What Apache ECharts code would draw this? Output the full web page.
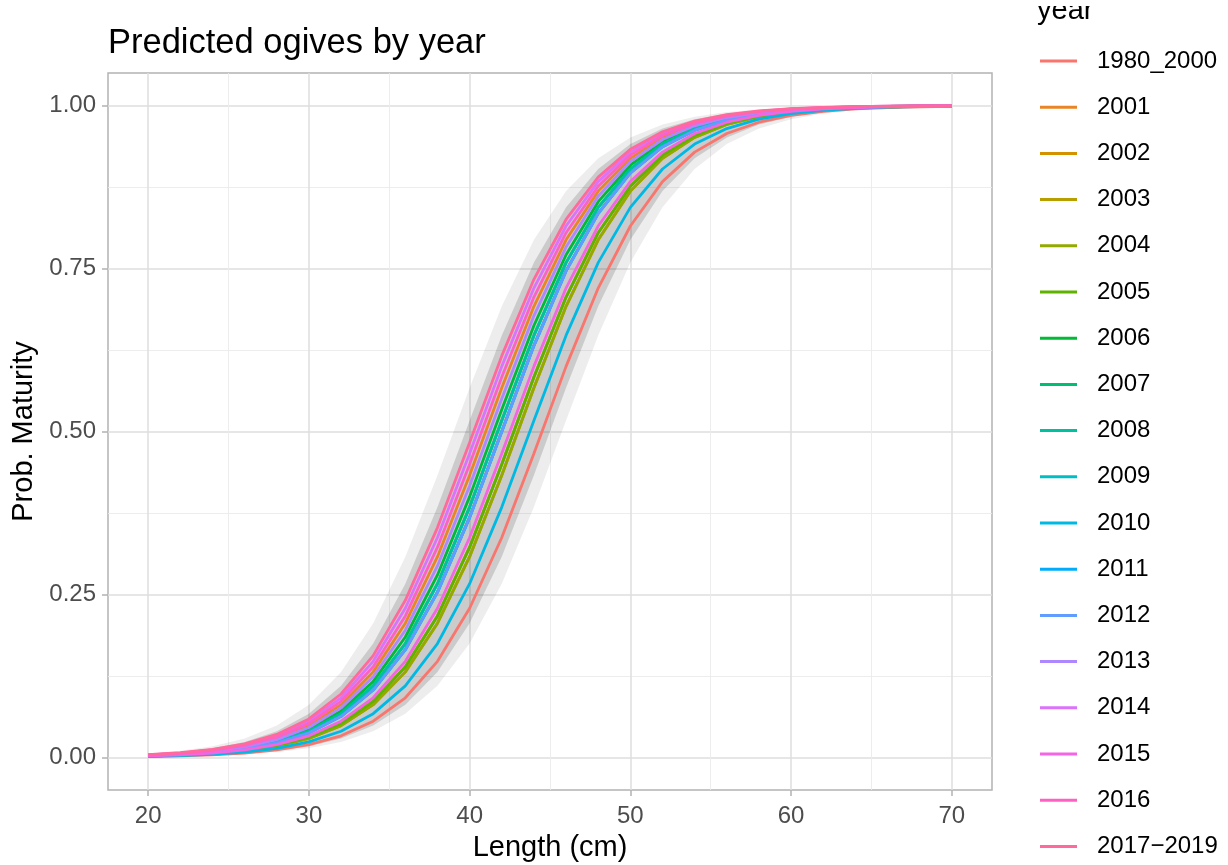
<!DOCTYPE html>
<html>
<head>
<meta charset="utf-8">
<script src="https://cdn.jsdelivr.net/npm/echarts@6/dist/echarts.min.js"></script>
<style>
html, body { margin: 0; padding: 0; background: #fff; }
#chart { width: 1228px; height: 865px; }
</style>
</head>
<body>
<div id="chart"></div>
<script>
// length classes (cm)
var lengths = [20,22,24,26,28,30,32,34,36,38,40,42,44,46,48,50,52,54,56,58,60,62,64,66,68,70];

var years = ['1980_2000','2001','2002','2003','2004','2005','2006','2007','2008','2009',
             '2010','2011','2012','2013','2014','2015','2016','2017\u22122019'];

var colors = ['#F8766D','#E88526','#D39200','#B79F00','#93AA00','#5EB300','#00BA38','#00BF74','#00C19F',
              '#00BFC4','#00B9E3','#00ADFA','#619CFF','#AE87FF','#DB72FB','#F564E3','#FF61C3','#FF699C'];

// predicted maturity by year
var p1980_2000 = [0.0013,0.0023,0.0039,0.0067,0.0115,0.0196,0.0331,0.0555,0.0915,0.1474,0.2288,0.3374,0.4663,0.5999,0.7201,0.8153,0.8834,0.9286,0.9571,0.9745,0.9850,0.9912,0.9949,0.9970,0.9982,0.9990];
var p2001 = [0.0034,0.0059,0.0101,0.0171,0.0290,0.0488,0.0809,0.1312,0.2059,0.3079,0.4329,0.5671,0.6921,0.7941,0.8688,0.9191,0.9512,0.9710,0.9829,0.9900,0.9941,0.9966,0.9980,0.9988,0.9993,0.9996];
var p2002 = [0.0020,0.0034,0.0059,0.0101,0.0171,0.0290,0.0488,0.0809,0.1312,0.2059,0.3079,0.4329,0.5671,0.6921,0.7941,0.8688,0.9191,0.9512,0.9710,0.9829,0.9900,0.9941,0.9966,0.9980,0.9988,0.9993];
var p2003 = [0.0021,0.0037,0.0063,0.0107,0.0183,0.0310,0.0520,0.0861,0.1391,0.2171,0.3225,0.4496,0.5836,0.7063,0.8050,0.8763,0.9240,0.9542,0.9728,0.9840,0.9906,0.9945,0.9968,0.9981,0.9989,0.9994];
var p2004 = [0.0020,0.0034,0.0059,0.0101,0.0171,0.0290,0.0488,0.0809,0.1312,0.2059,0.3079,0.4329,0.5671,0.6921,0.7941,0.8688,0.9191,0.9512,0.9710,0.9829,0.9900,0.9941,0.9966,0.9980,0.9988,0.9993];
var p2005 = [0.0021,0.0037,0.0063,0.0107,0.0183,0.0310,0.0520,0.0861,0.1391,0.2171,0.3225,0.4496,0.5836,0.7063,0.8050,0.8763,0.9240,0.9542,0.9728,0.9840,0.9906,0.9945,0.9968,0.9981,0.9989,0.9994];
var p2006 = [0.0030,0.0051,0.0088,0.0150,0.0255,0.0429,0.0714,0.1166,0.1847,0.2799,0.4001,0.5337,0.6626,0.7712,0.8526,0.9085,0.9445,0.9669,0.9805,0.9885,0.9933,0.9961,0.9977,0.9987,0.9992,0.9995];
var p2007 = [0.0028,0.0048,0.0082,0.0140,0.0238,0.0402,0.0671,0.1098,0.1747,0.2665,0.3840,0.5169,0.6474,0.7591,0.8439,0.9027,0.9409,0.9647,0.9791,0.9877,0.9928,0.9958,0.9976,0.9986,0.9992,0.9995];
var p2008 = [0.0028,0.0048,0.0082,0.0140,0.0238,0.0402,0.0671,0.1098,0.1747,0.2665,0.3840,0.5169,0.6474,0.7591,0.8439,0.9027,0.9409,0.9647,0.9791,0.9877,0.9928,0.9958,0.9976,0.9986,0.9992,0.9995];
var p2009 = [0.0026,0.0045,0.0077,0.0131,0.0223,0.0377,0.0630,0.1034,0.1652,0.2535,0.3682,0.5000,0.6318,0.7465,0.8348,0.8966,0.9370,0.9623,0.9777,0.9869,0.9923,0.9955,0.9974,0.9985,0.9991,0.9995];
var p2010 = [0.0016,0.0028,0.0048,0.0082,0.0140,0.0238,0.0402,0.0671,0.1098,0.1747,0.2665,0.3840,0.5169,0.6474,0.7591,0.8439,0.9027,0.9409,0.9647,0.9791,0.9877,0.9928,0.9958,0.9976,0.9986,0.9992];
var p2011 = [0.0026,0.0045,0.0077,0.0131,0.0223,0.0377,0.0630,0.1034,0.1652,0.2535,0.3682,0.5000,0.6318,0.7465,0.8348,0.8966,0.9370,0.9623,0.9777,0.9869,0.9923,0.9955,0.9974,0.9985,0.9991,0.9995];
var p2012 = [0.0026,0.0045,0.0077,0.0131,0.0223,0.0377,0.0630,0.1034,0.1652,0.2535,0.3682,0.5000,0.6318,0.7465,0.8348,0.8966,0.9370,0.9623,0.9777,0.9869,0.9923,0.9955,0.9974,0.9985,0.9991,0.9995];
var p2013 = [0.0032,0.0055,0.0094,0.0160,0.0272,0.0458,0.0760,0.1237,0.1951,0.2937,0.4164,0.5504,0.6775,0.7829,0.8609,0.9139,0.9480,0.9690,0.9817,0.9893,0.9937,0.9963,0.9979,0.9988,0.9993,0.9996];
var p2014 = [0.0039,0.0067,0.0115,0.0196,0.0331,0.0555,0.0915,0.1474,0.2288,0.3374,0.4663,0.5999,0.7201,0.8153,0.8834,0.9286,0.9571,0.9745,0.9850,0.9912,0.9949,0.9970,0.9982,0.9990,0.9994,0.9997];
var p2015 = [0.0023,0.0039,0.0067,0.0115,0.0196,0.0331,0.0555,0.0915,0.1474,0.2288,0.3374,0.4663,0.5999,0.7201,0.8153,0.8834,0.9286,0.9571,0.9745,0.9850,0.9912,0.9949,0.9970,0.9982,0.9990,0.9994];
var p2016 = [0.0037,0.0063,0.0107,0.0183,0.0310,0.0520,0.0861,0.1391,0.2171,0.3225,0.4496,0.5836,0.7063,0.8050,0.8763,0.9240,0.9542,0.9728,0.9840,0.9906,0.9945,0.9968,0.9981,0.9989,0.9994,0.9996];
var p2017_2019 = [0.0042,0.0072,0.0123,0.0209,0.0353,0.0591,0.0973,0.1561,0.2410,0.3526,0.4831,0.6160,0.7335,0.8253,0.8902,0.9329,0.9598,0.9762,0.9860,0.9918,0.9952,0.9972,0.9984,0.9990,0.9994,0.9997];

// grey confidence envelope (outer and inner edge of the overlapping ribbons)
var bandOuterHi = [0.0059,0.0101,0.0171,0.0290,0.0488,0.0809,0.1312,0.2059,0.3079,0.4329,0.5671,0.6921,0.7941,0.8688,0.9191,0.9512,0.9710,0.9829,0.9900,0.9941,0.9966,0.9980,0.9988,0.9993,0.9996,0.9998];
var bandInnerHi = [0.0048,0.0082,0.0140,0.0238,0.0402,0.0671,0.1098,0.1747,0.2665,0.3840,0.5169,0.6474,0.7591,0.8439,0.9027,0.9409,0.9647,0.9791,0.9877,0.9928,0.9958,0.9976,0.9986,0.9992,0.9995,0.9997];
var bandInnerLo = [0.0012,0.0020,0.0034,0.0059,0.0101,0.0171,0.0290,0.0488,0.0809,0.1312,0.2059,0.3079,0.4329,0.5671,0.6921,0.7941,0.8688,0.9191,0.9512,0.9710,0.9829,0.9900,0.9941,0.9966,0.9980,0.9988];
var bandOuterLo = [0.0010,0.0016,0.0028,0.0048,0.0082,0.0140,0.0238,0.0402,0.0671,0.1098,0.1747,0.2665,0.3840,0.5169,0.6474,0.7591,0.8439,0.9027,0.9409,0.9647,0.9791,0.9877,0.9928,0.9958,0.9976,0.9986];

var xTicks = [20,30,40,50,60,70];
var xMinor = [25,35,45,55,65];
var yTicks = [0,0.25,0.5,0.75,1];
var yMinor = [0.125,0.375,0.625,0.875];

var values = [p1980_2000,p2001,p2002,p2003,p2004,p2005,p2006,p2007,p2008,p2009,
              p2010,p2011,p2012,p2013,p2014,p2015,p2016,p2017_2019];

var font = 'Liberation Sans';
var myChart = echarts.init(document.getElementById('chart'));

function bandSeries(hi, lo, fill) {
    return {
        type: 'custom',
        silent: true,
        z: 1,
        data: [[lengths[0], 0]],
        renderItem: function (params, api) {
            var pts = [];
            for (var i = 0; i < lengths.length; i++) pts.push(api.coord([lengths[i], hi[i]]));
            for (var j = lengths.length - 1; j >= 0; j--) pts.push(api.coord([lengths[j], lo[j]]));
            return { type: 'polygon', shape: { points: pts }, style: { fill: fill } };
        }
    };
}

var series = [
    bandSeries(bandOuterHi, bandOuterLo, 'rgba(0,0,0,0.07)'),
    bandSeries(bandInnerHi, bandInnerLo, 'rgba(0,0,0,0.14)')
];
years.forEach(function (name, i) {
    series.push({
        type: 'line',
        name: name,
        z: 2,
        symbol: 'none',
        silent: true,
        color: colors[i],
        lineStyle: { width: 2.8, color: colors[i] },
        data: lengths.map(function (x, j) { return [x, values[i][j]]; })
    });
});

function minorAxis(min, max, vals) {
    return {
        type: 'value', min: min, max: max,
        axisLine: { show: false, onZero: false },
        axisTick: { show: false, customValues: vals },
        axisLabel: { show: false, customValues: vals },
        splitLine: { show: true, lineStyle: { color: '#EBEBEB', width: 0.9 } }
    };
}

var option = {
    animation: false,
    backgroundColor: '#fff',
    textStyle: { fontFamily: font },
    title: {
        text: 'Predicted ogives by year',
        left: 108, top: 26, padding: 0,
        textStyle: { fontFamily: font, fontSize: 34.5, fontWeight: 'normal', color: '#000' }
    },
    legend: {
        orient: 'vertical',
        left: 1040, top: 48, bottom: 0,
        padding: 0,
        icon: 'rect',
        itemWidth: 37, itemHeight: 3,
        itemGap: 20.2,
        selectedMode: false,
        data: years,
        textStyle: { fontFamily: font, fontSize: 24, lineHeight: 26, color: '#000', padding: [0, 0, 0, 15] }
    },
    grid: {
        left: 108, right: 236, top: 73, bottom: 75,
        outerBoundsMode: 'none',
        containLabel: false,
        show: true, borderColor: '#B3B3B3', borderWidth: 1.5, backgroundColor: 'transparent'
    },
    xAxis: [{
        type: 'value', min: 17.5, max: 72.5,
        name: 'Length (cm)', nameLocation: 'middle', nameGap: 43,
        nameTextStyle: { fontFamily: font, fontSize: 29, color: '#000' },
        axisLine: { show: false, onZero: false },
        axisTick: { show: true, length: 6, customValues: xTicks, lineStyle: { color: '#B3B3B3', width: 1.5 } },
        axisLabel: { customValues: xTicks, margin: 14, fontFamily: font, fontSize: 24, color: '#4D4D4D' },
        splitLine: { show: true, lineStyle: { color: '#DEDEDE', width: 1.5 } }
    }, minorAxis(17.5, 72.5, xMinor)],
    yAxis: [{
        type: 'value', min: -0.05, max: 1.05,
        name: 'Prob. Maturity', nameLocation: 'middle', nameGap: 67,
        nameTextStyle: { fontFamily: font, fontSize: 29, color: '#000' },
        axisLine: { show: false, onZero: false },
        axisTick: { show: true, length: 6, customValues: yTicks, lineStyle: { color: '#B3B3B3', width: 1.5 } },
        axisLabel: {
            customValues: yTicks, margin: 12, fontFamily: font, fontSize: 24, color: '#4D4D4D',
            formatter: function (v) { return v.toFixed(2); }
        },
        splitLine: { show: true, lineStyle: { color: '#DEDEDE', width: 1.5 } }
    }, minorAxis(-0.05, 1.05, yMinor)],
    graphic: [
        { type: 'text', left: 1037, top: -4, z: 10,
          style: { text: 'year', font: '29px "Liberation Sans"', fill: '#000' } },
        { type: 'rect', shape: { x: 1025, y: 0, width: 203, height: 6 }, z: 11,
          style: { fill: '#fff' } }
    ],
    series: series
};
myChart.setOption(option);
</script>
</body>
</html>
